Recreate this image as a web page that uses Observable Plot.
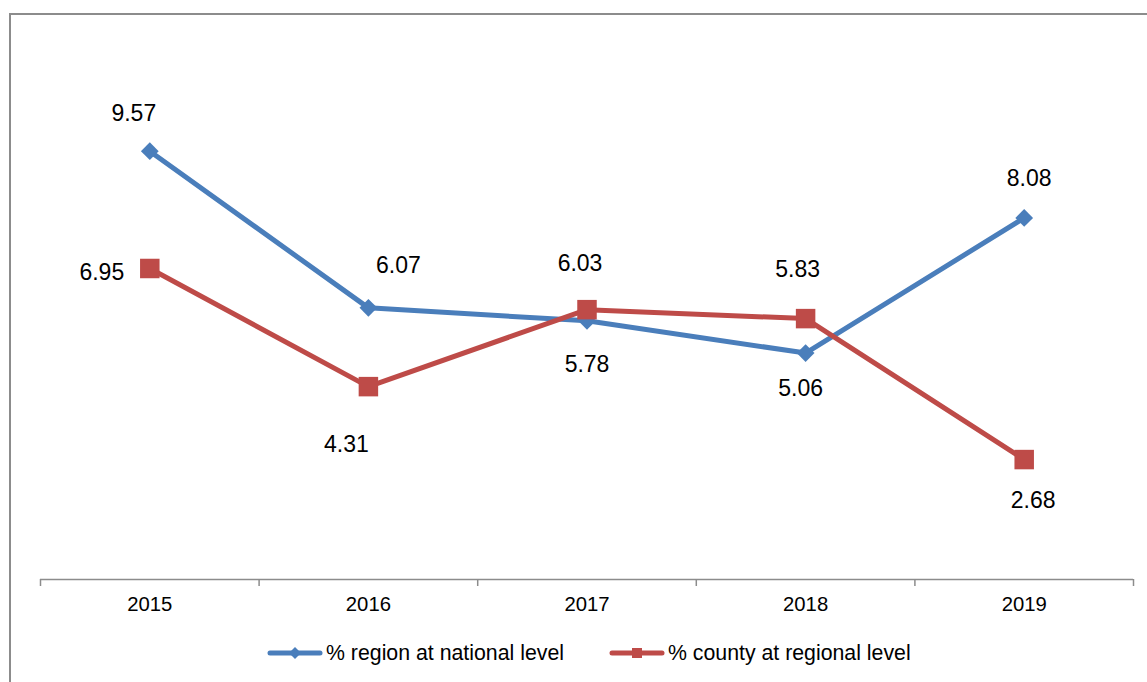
<!DOCTYPE html>
<html>
<head>
<meta charset="utf-8">
<script src="https://cdn.jsdelivr.net/npm/d3@7"></script>
<script src="https://cdn.jsdelivr.net/npm/@observablehq/plot@0.6"></script>
<style>
  html, body { margin: 0; padding: 0; background: #fff; overflow: hidden; width: 1147px; height: 682px; }
  body { position: relative; font-family: "Liberation Sans", Arial, sans-serif; }
  #frame { position: absolute; left: 9px; top: 13px; width: 1300px; height: 900px; border: 2px solid #8c8c8c; box-sizing: border-box; }
  #chart { position: absolute; left: 0; top: 0; }
  #legend { position: absolute; left: 267px; top: 640px; height: 26px; display: flex; align-items: center; font-size: 21.3px; color: #000; }
  .item { display: flex; align-items: center; }
  .item svg { display: block; margin-right: 3px; }
  .gap { width: 45px; }
</style>
</head>
<body>
<div id="frame"></div>
<div id="chart"></div>
<div id="legend"></div>
<script>
// ---- data ----
const years = [2015, 2016, 2017, 2018, 2019];
const regionNational = [9.57, 6.07, 5.78, 5.06, 8.08];
const countyRegional = [6.95, 4.31, 6.03, 5.83, 2.68];
const seriesNames = ["% region at national level", "% county at regional level"];

// ---- styling / layout config ----
const colors = ["#4A7EBB", "#BE4B48"];
const symbols = ["diamond2", "square"];
const symbolR = [8, 11];
// label offsets (dx, dy) per series per year
const labelOffsets = [
  [[-16, -38], [30, -42], [0, 44], [-5, 36], [5, -39]],
  [[-48, 4], [-22, 58], [-7, -46], [-8, -49], [9, 41]]
];
const fontFamily = '"Liberation Sans", Arial, sans-serif';

const seriesValues = [regionNational, countyRegional];
const rows = seriesValues.map((vals, s) => years.map((yr, i) => ({
  year: yr, value: vals[i], series: seriesNames[s],
  dx: labelOffsets[s][i][0], dy: labelOffsets[s][i][1]
})));

const boundaries = d3.range(years.length + 1).map(i => years[0] - 0.5 + i);

const marks = [
  Plot.ruleY([0], {stroke: "#8c8c8c", strokeWidth: 1.5}),
  Plot.axisX({ticks: boundaries, tickSize: 7, tickFormat: () => "", stroke: "#8c8c8c", strokeWidth: 1.5, label: null}),
  Plot.axisX({ticks: years, tickSize: 0, tickPadding: 17, tickFormat: d => String(d), fontSize: 20.3, fill: "#000", label: null})
];
rows.forEach((r, s) => {
  marks.push(Plot.line(r, {x: "year", y: "value", stroke: colors[s], strokeWidth: 5, strokeLinejoin: "round"}));
  marks.push(Plot.dot(r, {x: "year", y: "value", symbol: () => symbols[s], r: symbolR[s], fill: colors[s], stroke: "none"}));
});
rows.forEach(r => r.forEach(d => {
  marks.push(Plot.text([d], {x: "year", y: "value", text: d => d.value.toFixed(2), dx: d.dx, dy: d.dy, fontSize: 23, fill: "#000"}));
}));

const chart = Plot.plot({
  width: 1147,
  height: 625,
  marginLeft: 40,
  marginRight: 14,
  marginTop: 42,
  marginBottom: 46,
  x: {domain: [boundaries[0], boundaries[boundaries.length - 1]], axis: null, label: null},
  y: {domain: [0, 12], axis: null},
  symbol: {type: "identity"},
  style: {fontFamily, background: "transparent", overflow: "visible"},
  marks
});
document.getElementById("chart").appendChild(chart);

// ---- legend ----
const legend = d3.select("#legend");
seriesNames.forEach((name, s) => {
  if (s > 0) legend.append("div").attr("class", "gap");
  const item = legend.append("div").attr("class", "item");
  const sw = item.append("svg").attr("width", 56).attr("height", 16);
  sw.append("line").attr("x1", 3).attr("x2", 53).attr("y1", 8).attr("y2", 8)
    .attr("stroke", colors[s]).attr("stroke-width", 5).attr("stroke-linecap", "round");
  if (symbols[s] === "square") {
    sw.append("rect").attr("x", 23).attr("y", 3).attr("width", 10).attr("height", 10).attr("fill", colors[s]);
  } else {
    sw.append("path").attr("d", "M28,2 L34,8 L28,14 L22,8 Z").attr("fill", colors[s]);
  }
  item.append("span").text(name);
});
</script>
</body>
</html>
